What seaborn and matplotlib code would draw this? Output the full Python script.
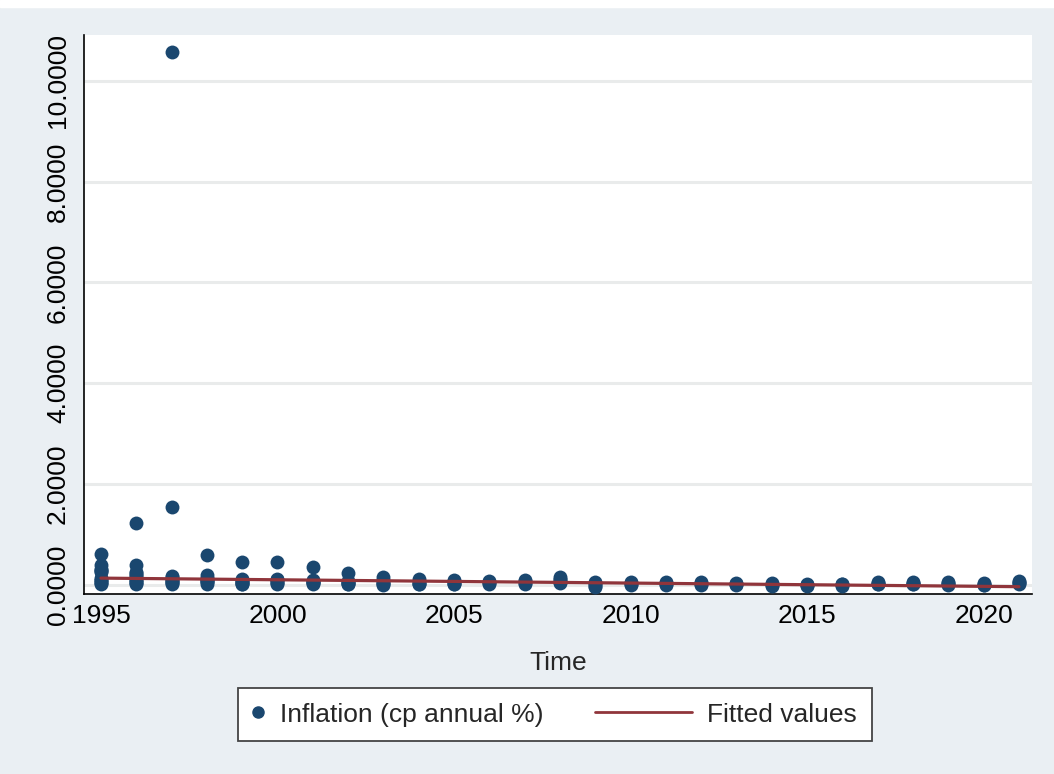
import numpy as np
import pandas as pd
import matplotlib
matplotlib.use("Agg")
import matplotlib.pyplot as plt
import seaborn as sns
from matplotlib.lines import Line2D
from matplotlib.patches import Rectangle
from matplotlib.legend_handler import HandlerLine2D

# Annual inflation (fraction) per country, grouped by year
years = list(range(1995, 2022))
inflation_by_year = [
    [0.62, 0.40, 0.32, 0.29, 0.28, 0.25, 0.14, 0.10, 0.09, 0.05, 0.03, 0.02],  # 1995
    [1.22, 0.39, 0.25, 0.23, 0.20, 0.18, 0.10, 0.09, 0.06, 0.04, 0.02],        # 1996
    [10.58, 1.55, 0.18, 0.15, 0.11, 0.09, 0.08, 0.06, 0.04, 0.02],             # 1997
    [0.59, 0.19, 0.14, 0.12, 0.11, 0.08, 0.07, 0.05, 0.02],                    # 1998
    [0.46, 0.11, 0.10, 0.07, 0.06, 0.04, 0.02, 0.01],                          # 1999
    [0.46, 0.12, 0.10, 0.09, 0.05, 0.04, 0.02],                                # 2000
    [0.35, 0.09, 0.08, 0.06, 0.05, 0.03, 0.02],                                # 2001
    [0.23, 0.08, 0.06, 0.04, 0.02, 0.01],                                      # 2002
    [0.15, 0.09, 0.05, 0.03, 0.01, -0.01],                                     # 2003
    [0.12, 0.07, 0.04, 0.02, 0.01],                                            # 2004
    [0.09, 0.07, 0.04, 0.02, 0.01],                                            # 2005
    [0.07, 0.05, 0.03, 0.02],                                                  # 2006
    [0.10, 0.07, 0.04, 0.02],                                                  # 2007
    [0.15, 0.12, 0.10, 0.06, 0.03],                                            # 2008
    [0.06, 0.03, 0.01, -0.02, -0.04],                                          # 2009
    [0.06, 0.03, 0.01, -0.01],                                                 # 2010
    [0.06, 0.04, 0.02, 0.00],                                                  # 2011
    [0.06, 0.04, 0.02, 0.00],                                                  # 2012
    [0.04, 0.02, 0.01, -0.01],                                                 # 2013
    [0.03, 0.01, 0.00, -0.02],                                                 # 2014
    [0.02, 0.00, -0.01, -0.03],                                                # 2015
    [0.02, 0.01, -0.01, -0.02],                                                # 2016
    [0.05, 0.03, 0.02, 0.01],                                                  # 2017
    [0.06, 0.04, 0.02, 0.01],                                                  # 2018
    [0.05, 0.03, 0.02, 0.00],                                                  # 2019
    [0.04, 0.02, 0.00, -0.01],                                                 # 2020
    [0.08, 0.05, 0.03, 0.02],                                                  # 2021
]

# Linear fitted values at the ends of the sample
fit_years = [1995, 2021]
fit_values = [0.135, -0.035]

x_ticks = [1995, 2000, 2005, 2010, 2015, 2020]
y_ticks = [0, 2, 4, 6, 8, 10]

df = pd.DataFrame({
    "Time": np.repeat(years, [len(v) for v in inflation_by_year]),
    "inflation": np.concatenate(inflation_by_year),
})
fit_df = pd.DataFrame({"Time": fit_years, "fitted": fit_values})

BG = "#eaeff3"
NAVY = "#1a476f"
MAROON = "#90353b"
FS = 19

sns.set_theme(style="white")
plt.rcParams["font.family"] = ["Liberation Sans", "DejaVu Sans"]

W, H = 1054, 774
fig = plt.figure(figsize=(W / 100, H / 100), dpi=100, facecolor=BG)
fig.patches.append(Rectangle((0, 1 - 7 / H), 1, 7 / H, transform=fig.transFigure,
                             color="white", zorder=0))

AX_TOP, AX_BOTTOM = 35, 594
ax = fig.add_axes([84 / W, (H - AX_BOTTOM) / H, (1032 - 84) / W, (AX_BOTTOM - AX_TOP) / H])
ax.set_facecolor("white")

sns.scatterplot(data=df, x="Time", y="inflation", color=NAVY, s=100, linewidth=0,
                ax=ax, legend=False, zorder=3, clip_on=False)
sns.lineplot(data=fit_df, x="Time", y="fitted", color=MAROON, linewidth=2.3,
             ax=ax, zorder=4)

ax.set_xlim(1994.52, 2021.37)
ax.set_ylim(-0.18, 10.91)
ax.set_xticks(x_ticks)
ax.set_xticklabels([str(t) for t in x_ticks], fontsize=FS)
ax.set_yticks(y_ticks)
ax.set_yticklabels([f"{t:.4f}" for t in y_ticks], fontsize=FS, rotation=90, va="center")
ax.set_ylabel("")
ax.set_xlabel("Time", fontsize=FS, labelpad=16)

ax.yaxis.grid(True, color="#e9ebeb", linewidth=2.2, zorder=0)
ax.set_axisbelow(True)
for side in ("top", "right"):
    ax.spines[side].set_visible(False)
for side in ("left", "bottom"):
    ax.spines[side].set_color("black")
    ax.spines[side].set_linewidth(1.2)
    ax.spines[side].set_zorder(2)
ax.tick_params(axis="both", direction="out", length=6, width=1.0, color="#222222",
               labelcolor="black")
ax.tick_params(axis="x", pad=1.5)
ax.tick_params(axis="y", pad=4)


class NarrowKeyHandler(HandlerLine2D):
    """Marker key drawn in a narrower box than the line key."""

    def legend_artist(self, legend, orig_handle, fontsize, handlebox):
        handlebox.width = 0.45 * fontsize
        return super().legend_artist(legend, orig_handle, fontsize, handlebox)


dot_key = Line2D([], [], linestyle="none", marker="o", markersize=8,
                 color=NAVY, markeredgecolor=NAVY)
line_key = Line2D([], [], color=MAROON, linewidth=2.0)
leg = fig.legend([dot_key, line_key], ["Inflation (cp annual %)", "Fitted values"],
                 loc="upper left", bbox_to_anchor=(238 / W, 1 - 688 / H), ncol=2,
                 fontsize=FS, frameon=True, fancybox=False, edgecolor="#444444",
                 facecolor="white", framealpha=1, handlelength=3.67,
                 handletextpad=0.6, columnspacing=1.93, borderpad=0.55,
                 borderaxespad=0, handler_map={dot_key: NarrowKeyHandler()})
leg.get_frame().set_linewidth(1.3)

fig.savefig("out.png", dpi=100, facecolor=BG)
